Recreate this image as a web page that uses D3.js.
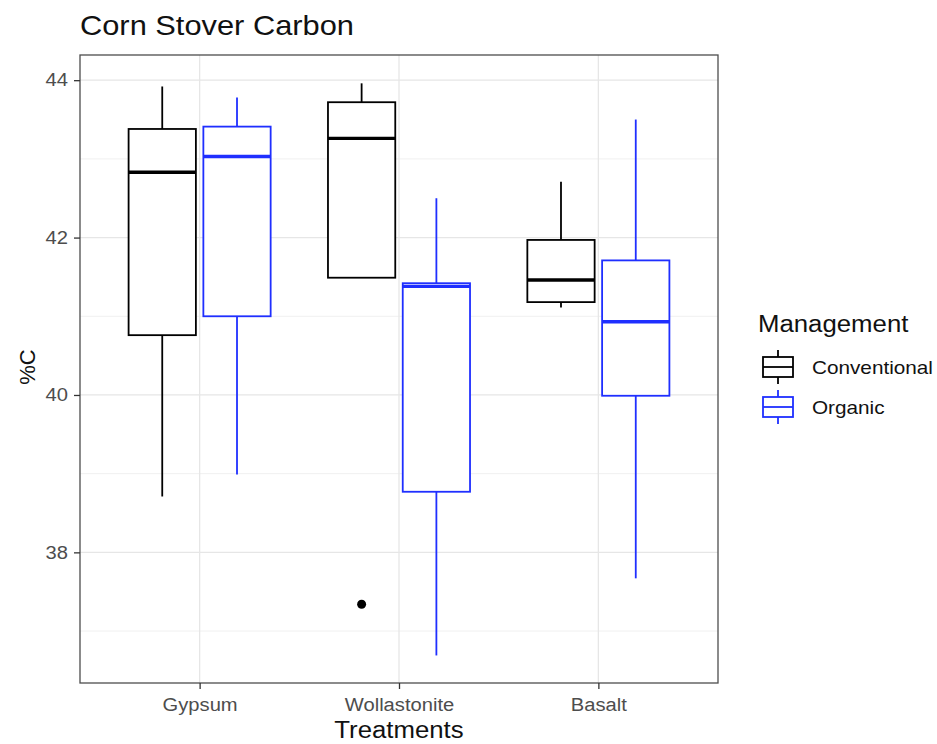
<!DOCTYPE html>
<html>
<head>
<meta charset="utf-8">
<script src="https://cdn.jsdelivr.net/npm/d3@7"></script>
<style>
  body { margin: 0; background: #fff; }
  text { font-family: "Liberation Sans", Arial, sans-serif; }
</style>
</head>
<body>
<svg id="chart" width="937" height="744"></svg>
<script>
// Treatments on the x axis, management groups dodged within each
const treatments = ["Gypsum", "Wollastonite", "Basalt"];
const managements = ["Conventional", "Organic"];
const colors = ["#000000", "#1f2fff"];

// Five-number summaries per box: [lower whisker, Q1, median, Q3, upper whisker]
const conventional = [
  [38.71, 40.76, 42.83, 43.38, 43.92],
  [41.49, 41.49, 43.26, 43.72, 43.96],
  [41.11, 41.18, 41.46, 41.97, 42.71]
];
const organic = [
  [38.99, 41.00, 43.03, 43.41, 43.78],
  [36.69, 38.77, 41.38, 41.42, 42.50],
  [37.67, 39.99, 40.93, 41.71, 43.50]
];
// Outlying points: [treatment, management, value]
const outliers = [["Wollastonite", "Conventional", 37.34]];

const yTicks = [38, 40, 42, 44];
const yMinor = [37, 39, 41, 43];

const svg = d3.select("#chart");
const panel = { left: 80, top: 55, right: 718, bottom: 683 };

// Discrete x positions with 0.6-unit expansion on each side
const unit = (panel.right - panel.left) / (treatments.length - 1 + 1.2);
const x = d3.scalePoint()
  .domain(treatments)
  .range([panel.left + unit * 0.6, panel.right - unit * 0.6]);

const y = d3.scaleLinear().domain([36.34, 44.32]).range([panel.bottom, panel.top]);

// Text is drawn slightly wide to suit the chart's lettering
const WIDEN = 1.12;
function widen(sel) {
  sel.each(function () {
    const len = this.getComputedTextLength();
    d3.select(this).attr("textLength", len * WIDEN).attr("lengthAdjust", "spacingAndGlyphs");
  });
}

const grid = svg.append("g");
grid.selectAll(".minor").data(yMinor).join("line")
  .attr("x1", panel.left).attr("x2", panel.right)
  .attr("y1", d => y(d)).attr("y2", d => y(d))
  .attr("stroke", "#f0f0f0").attr("stroke-width", 1);
grid.selectAll(".major").data(yTicks).join("line")
  .attr("x1", panel.left).attr("x2", panel.right)
  .attr("y1", d => y(d)).attr("y2", d => y(d))
  .attr("stroke", "#e6e6e6").attr("stroke-width", 1.3);
grid.selectAll(".vmajor").data(treatments).join("line")
  .attr("x1", d => x(d)).attr("x2", d => x(d))
  .attr("y1", panel.top).attr("y2", panel.bottom)
  .attr("stroke", "#e6e6e6").attr("stroke-width", 1.3);

// Boxes
const dodge = unit * 0.75 / 2;
const boxW = dodge * 0.9;
const series = [conventional, organic];
const boxes = [];
managements.forEach((m, mi) => {
  treatments.forEach((t, ti) => {
    const s = series[mi][ti];
    boxes.push({ t, m, mi, cx: x(t) + (mi === 0 ? -dodge / 2 : dodge / 2),
      lo: s[0], q1: s[1], med: s[2], q3: s[3], hi: s[4] });
  });
});

const g = svg.append("g");
boxes.forEach(b => {
  const c = colors[b.mi];
  const bg = g.append("g");
  bg.append("line").attr("x1", b.cx).attr("x2", b.cx)
    .attr("y1", y(b.hi)).attr("y2", y(b.q3)).attr("stroke", c).attr("stroke-width", 1.8);
  bg.append("line").attr("x1", b.cx).attr("x2", b.cx)
    .attr("y1", y(b.q1)).attr("y2", y(b.lo)).attr("stroke", c).attr("stroke-width", 1.8);
  bg.append("rect").attr("x", b.cx - boxW / 2).attr("width", boxW)
    .attr("y", y(b.q3)).attr("height", y(b.q1) - y(b.q3))
    .attr("fill", "#fff").attr("stroke", c).attr("stroke-width", 1.8);
  bg.append("line").attr("x1", b.cx - boxW / 2).attr("x2", b.cx + boxW / 2)
    .attr("y1", y(b.med)).attr("y2", y(b.med)).attr("stroke", c).attr("stroke-width", 3.4);
});

outliers.forEach(([t, m, v]) => {
  const mi = managements.indexOf(m);
  g.append("circle")
    .attr("cx", x(t) + (mi === 0 ? -dodge / 2 : dodge / 2))
    .attr("cy", y(v)).attr("r", 4.5).attr("fill", colors[mi]);
});

// Panel border
svg.append("rect").attr("x", panel.left).attr("y", panel.top)
  .attr("width", panel.right - panel.left).attr("height", panel.bottom - panel.top)
  .attr("fill", "none").attr("stroke", "#4d4d4d").attr("stroke-width", 1.3);

// Axes
const yAxis = d3.axisLeft(y).tickValues(yTicks).tickSize(6).tickPadding(6);
const ya = svg.append("g").attr("transform", `translate(${panel.left},0)`).call(yAxis);
ya.select(".domain").remove();
ya.selectAll(".tick line").attr("stroke", "#333").attr("stroke-width", 1.3);
ya.selectAll(".tick text").attr("fill", "#4d4d4d").style("font-size", "18px").call(widen);

const xAxis = d3.axisBottom(x).tickSize(6).tickPadding(9);
const xa = svg.append("g").attr("transform", `translate(0,${panel.bottom})`).call(xAxis);
xa.select(".domain").remove();
xa.selectAll(".tick line").attr("stroke", "#333").attr("stroke-width", 1.3);
xa.selectAll(".tick text").attr("fill", "#4d4d4d").style("font-size", "18px").call(widen);

// Titles
svg.append("text").attr("x", 80).attr("y", 35).attr("fill", "#111")
  .style("font-size", "27.5px").text("Corn Stover Carbon").call(widen);
svg.append("text").attr("x", (panel.left + panel.right) / 2).attr("y", 738)
  .attr("text-anchor", "middle").attr("fill", "#111").style("font-size", "23px")
  .text("Treatments").call(widen);
svg.append("text").attr("transform", `translate(35,367) rotate(-90)`)
  .attr("text-anchor", "middle").attr("fill", "#111").style("font-size", "22px").text("%C");

// Legend
const leg = svg.append("g");
leg.append("text").attr("x", 758).attr("y", 332).attr("fill", "#111")
  .style("font-size", "23px").text("Management").call(widen);
managements.forEach((m, i) => {
  const top = 350 + i * 40;
  const c = colors[i];
  const kx = 778;
  leg.append("line").attr("x1", kx).attr("x2", kx).attr("y1", top).attr("y2", top + 34)
    .attr("stroke", c).attr("stroke-width", 1.8);
  leg.append("rect").attr("x", 763).attr("y", top + 7).attr("width", 30).attr("height", 20)
    .attr("fill", "#fff").attr("stroke", c).attr("stroke-width", 1.8);
  leg.append("line").attr("x1", 763).attr("x2", 793).attr("y1", top + 17).attr("y2", top + 17)
    .attr("stroke", c).attr("stroke-width", 1.8);
  leg.append("text").attr("x", 812).attr("y", top + 24).attr("fill", "#111")
    .style("font-size", "18.5px").text(m).call(widen);
});
</script>
</body>
</html>
